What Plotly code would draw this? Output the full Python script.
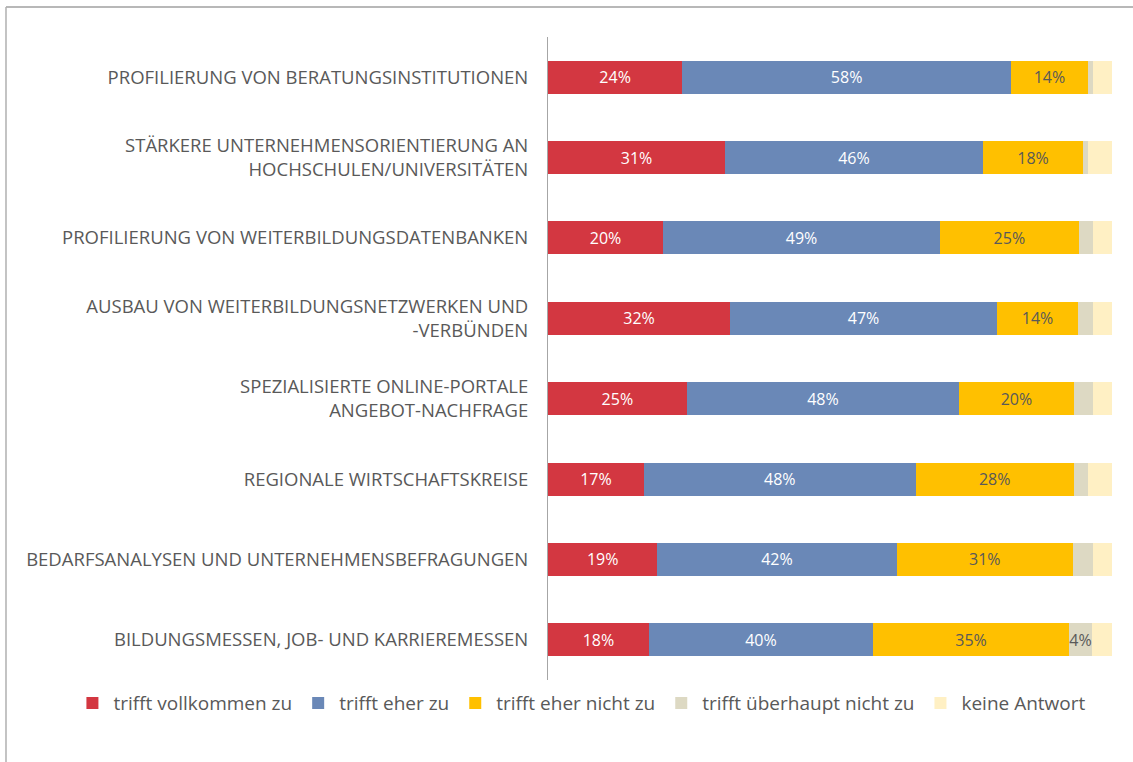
import plotly.graph_objects as go

categories = [
    "PROFILIERUNG VON BERATUNGSINSTITUTIONEN",
    "STÄRKERE UNTERNEHMENSORIENTIERUNG AN<br>HOCHSCHULEN/UNIVERSITÄTEN",
    "PROFILIERUNG VON WEITERBILDUNGSDATENBANKEN",
    "AUSBAU VON WEITERBILDUNGSNETZWERKEN UND<br>-VERBÜNDEN",
    "SPEZIALISIERTE ONLINE-PORTALE<br>ANGEBOT-NACHFRAGE",
    "REGIONALE WIRTSCHAFTSKREISE",
    "BEDARFSANALYSEN UND UNTERNEHMENSBEFRAGUNGEN",
    "BILDUNGSMESSEN, JOB- UND KARRIEREMESSEN",
]

series_names = [
    "trifft vollkommen zu",
    "trifft eher zu",
    "trifft eher nicht zu",
    "trifft überhaupt nicht zu",
    "keine Antwort",
]

vollkommen = [23.8, 31.4, 20.4, 32.3, 24.6, 17.0, 19.4, 17.9]
eher = [58.3, 45.7, 49.1, 47.3, 48.3, 48.2, 42.4, 39.7]
eher_nicht = [13.6, 17.8, 24.6, 14.4, 20.3, 28.0, 31.3, 34.8]
ueberhaupt_nicht = [1.0, 0.9, 2.6, 2.7, 3.4, 2.5, 3.5, 4.0]
keine_antwort = [3.3, 4.2, 3.3, 3.3, 3.4, 4.3, 3.4, 3.6]

values = [vollkommen, eher, eher_nicht, ueberhaupt_nicht, keine_antwort]
colors = ["#D33741", "#6A88B7", "#FFC000", "#DDD9C3", "#FFF0C4"]
text_colors = ["#FFFFFF", "#FFFFFF", "#595959", "#595959", "#595959"]
show_labels = [True, True, True, True, False]

FONT = "Open Sans"

fig = go.Figure()
for name, vals, col, tcol, show in zip(series_names, values, colors, text_colors, show_labels):
    texts = [f"{round(v)}%" if (show and v >= 3.8) else "" for v in vals]
    fig.add_trace(go.Bar(
        y=categories, x=vals, name=name, orientation="h",
        marker=dict(color=col, line=dict(width=0)),
        text=texts, textposition="inside", insidetextanchor="middle",
        textangle=0, constraintext="none",
        textfont=dict(color=tcol, size=16, family=FONT),
        hoverinfo="skip",
    ))

fig.update_layout(
    barmode="stack",
    bargap=0.59,
    width=1133, height=762,
    margin=dict(l=548, r=21, t=37, b=82),
    paper_bgcolor="white", plot_bgcolor="white",
    font=dict(family=FONT, color="#595959", size=16),
    showlegend=True,
    legend=dict(
        orientation="h", x=-0.845, xanchor="left", y=-0.036, yanchor="middle",
        font=dict(size=19, family=FONT, color="#595959"),
        itemwidth=32,
        traceorder="normal", itemclick=False, itemdoubleclick=False,
    ),
    xaxis=dict(range=[0, 100], visible=False, fixedrange=True),
    yaxis=dict(
        categoryorder="array", categoryarray=categories, autorange="reversed",
        showline=True, linecolor="#A6A6A6", linewidth=1,
        ticks="", ticklabelstandoff=15, showgrid=False, fixedrange=True,
        tickfont=dict(size=18.5, family=FONT, color="#595959"),
    ),
    shapes=[
        dict(type="line", xref="paper", yref="paper", x0=-0.961, x1=1.1, y0=1.0467, y1=1.0467,
             line=dict(color="#A0A0A0", width=1.5)),
        dict(type="line", xref="paper", yref="paper", x0=-0.961, x1=-0.961, y0=1.0467, y1=-0.2,
             line=dict(color="#B0B0B0", width=1.5)),
    ],
)

fig.write_html("out.html", config={"displayModeBar": False},
               post_script="document.body.style.margin='0px';")
